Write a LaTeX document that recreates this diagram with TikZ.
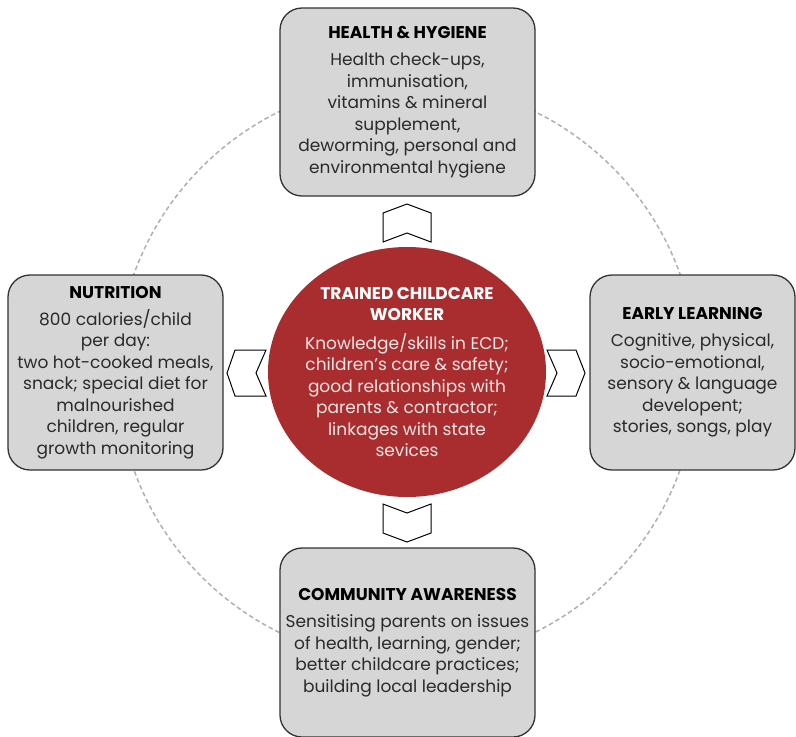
\documentclass[tikz,border=0pt]{standalone}
\usepackage{fontspec}
\setmainfont{Poppins}
\usetikzlibrary{shapes.geometric}
\definecolor{boxfill}{HTML}{D6D6D6}
\definecolor{boxline}{HTML}{333333}
\definecolor{cred}{HTML}{A92D2E}
\definecolor{dashgray}{HTML}{B0B0B0}
\definecolor{bodytext}{HTML}{2A2A2A}
\definecolor{circtext}{HTML}{F6E6E6}
\newcommand{\bt}[1]{\textcolor{black}{\textbf{#1}}}
\newcommand{\wt}[1]{\textcolor{white}{\textbf{#1}}}
\begin{document}
\begin{tikzpicture}[x=1pt,y=-1pt,
  box/.style={draw=boxline, line width=1.3pt, fill=boxfill, rounded corners=22pt,
    align=center, inner sep=0pt, text=bodytext,
    font=\fontsize{17}{21.5}\selectfont},
  hub/.style={ellipse, fill=cred, draw=none, inner sep=0pt,
    minimum width=278pt, minimum height=250pt},
  hubtext/.style={align=center, inner sep=0pt, text=circtext,
    font=\fontsize{17}{21.5}\selectfont},
  chev/.style={draw=black, line width=1pt, fill=white, line join=miter}
]
\useasboundingbox (0,0) rectangle (796,737);
\draw[dashgray, line width=1.5pt, dash pattern=on 4.5pt off 3pt] (407,372) circle[radius=290pt];

\node[hub] (hub) at (407,372) {};
\node[hubtext] (hubt) at (hub.center) {\wt{TRAINED CHILDCARE}\\\wt{WORKER}\\[7pt]
Knowledge/skills in ECD;\\children’s care \& safety;\\good relationships with\\parents \& contractor;\\linkages with state\\sevices};

\node[box, minimum width=255pt, minimum height=188pt] (hh) at (407.5,102) {\bt{HEALTH \& HYGIENE}\\[5.5pt]
Health check-ups,\\immunisation,\\vitamins \& mineral\\supplement,\\deworming, personal and\\environmental hygiene};

\node[box, minimum width=215pt, minimum height=195pt] (nu) at (115.5,372.5) {\bt{NUTRITION}\\[5.5pt]
800 calories/child\\per day:\\two hot-cooked meals,\\snack; special diet for\\malnourished\\children, regular\\growth monitoring};

\node[box, minimum width=205pt, minimum height=195pt] (el) at (692.5,372.5) {\bt{EARLY LEARNING}\\[5.5pt]
Cognitive, physical,\\socio-emotional,\\sensory \& language\\developent;\\stories, songs, play};

\node[box, minimum width=255pt, minimum height=189pt] (ca) at (407.5,642.5) {\bt{COMMUNITY AWARENESS}\\[5.5pt]
Sensitising parents on issues\\of health, learning, gender;\\better childcare practices;\\building local leadership};

% chevrons
\draw[chev] (383,213) -- (407,204) -- (431,213) -- (431,242) -- (407,233) -- (383,242) -- cycle;
\draw[chev] (383,504) -- (407,513) -- (431,504) -- (431,533) -- (407,542) -- (383,533) -- cycle;
\draw[chev] (266,350) -- (235,350) -- (227,373) -- (235,396) -- (266,396) -- (256,373) -- cycle;
\draw[chev] (547,350) -- (576,350) -- (585,373) -- (576,396) -- (547,396) -- (557,373) -- cycle;
\end{tikzpicture}
\end{document}
